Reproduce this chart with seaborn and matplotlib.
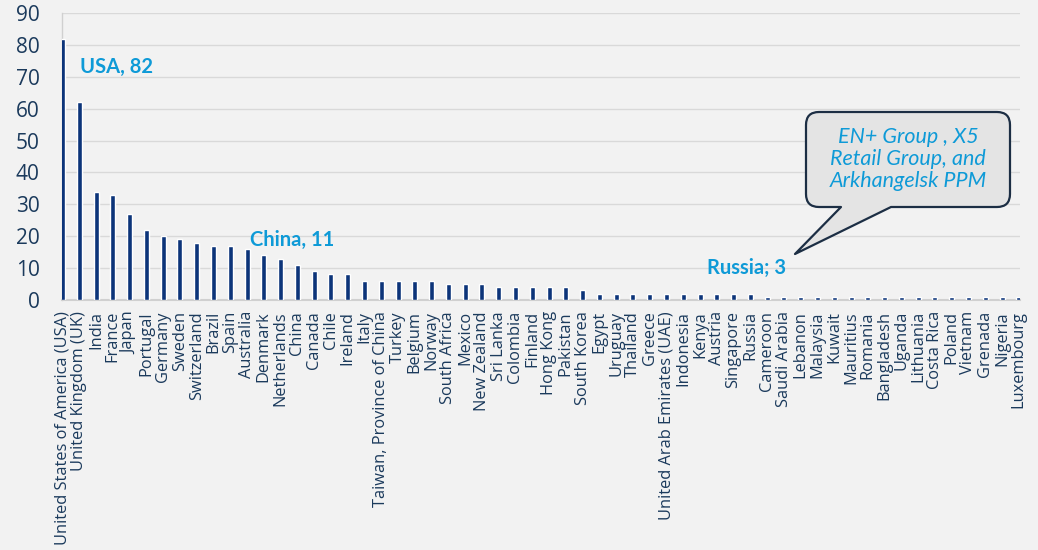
import matplotlib
matplotlib.use("Agg")
import matplotlib.pyplot as plt
import seaborn as sns
from matplotlib.path import Path
from matplotlib.patches import PathPatch

countries = [
    "United States of America (USA)", "United Kingdom (UK)", "India", "France", "Japan",
    "Portugal", "Germany", "Sweden", "Switzerland", "Brazil", "Spain", "Australia",
    "Denmark", "Netherlands", "China", "Canada", "Chile", "Ireland", "Italy",
    "Taiwan, Province of China", "Turkey", "Belgium", "Norway", "South Africa", "Mexico",
    "New Zealand", "Sri Lanka", "Colombia", "Finland", "Hong Kong", "Pakistan",
    "South Korea", "Egypt", "Uruguay", "Thailand", "Greece",
    "United Arab Emirates (UAE)", "Indonesia", "Kenya", "Austria", "Singapore", "Russia",
    "Cameroon", "Saudi Arabia", "Lebanon", "Malaysia", "Kuwait", "Mauritius", "Romania",
    "Bangladesh", "Uganda", "Lithuania", "Costa Rica", "Poland", "Vietnam", "Grenada",
    "Nigeria", "Luxembourg",
]
values = [
    82, 62, 34, 33, 27, 22, 20, 19, 18, 17, 17, 16, 14, 13, 11, 9, 8, 8, 6,
    6, 6, 6, 6, 5, 5, 5, 4, 4, 4, 4, 4, 3, 2, 2, 2, 2,
    2, 2, 2, 2, 2, 2,
    1, 1, 1, 1, 1, 1, 1, 1, 1, 1, 1, 1, 1, 1, 1, 1,
]
yticks = [0, 10, 20, 30, 40, 50, 60, 70, 80, 90]
# (label text, country it refers to, horizontal offset in categories, y level)
annotations = [("USA, 82", "United States of America (USA)", 1.05, 73),
               ("China, 11", "China", -2.8, 18.8),
               ("Russia; 3", "Russia", -2.6, 10)]
callout_lines = ["EN+ Group , X5", "Retail Group, and", "Arkhangelsk PPM"]

W, H = 1038, 550
BG = "#f2f2f2"
NAVY = "#0c3479"
TXT = "#1b3a5c"
BLUE = "#0e9ad7"

sns.set_theme(style="white")
plt.rcParams["font.family"] = ["Open Sans", "DejaVu Sans"]

fig = plt.figure(figsize=(W / 100, H / 100), dpi=100, facecolor=BG)
ax = fig.add_axes([62 / W, 1 - 300 / H, (1020 - 62) / W, (300 - 13) / H])
ax.set_facecolor(BG)

sns.barplot(x=countries, y=values, color=NAVY, width=0.3, saturation=1,
            ax=ax, zorder=3)

ax.set_xlim(-0.03, len(countries) - 1 + 0.07)
ax.set_ylim(0, 90)
ax.set_yticks(yticks)
ax.set_yticklabels([str(v) for v in yticks], fontsize=15, color=TXT)
ax.set_xticks(range(len(countries)))
ax.set_xticklabels(countries, rotation=90, fontsize=11.8, color=TXT)
ax.tick_params(axis="both", length=0)
ax.tick_params(axis="y", pad=16)
ax.tick_params(axis="x", pad=8)
ax.set_xlabel("")
ax.set_ylabel("")
ax.grid(axis="y", color="#d9d9d9", lw=1.0, zorder=0)
ax.set_axisbelow(True)
for s in ["top", "right"]:
    ax.spines[s].set_visible(False)
ax.spines["left"].set_color("#d0d0d0")
ax.spines["left"].set_linewidth(1.0)
ax.spines["bottom"].set_color("#d0d0d0")
ax.spines["bottom"].set_linewidth(1.5)

for text, country, dx, y in annotations:
    i = countries.index(country)
    ax.text(i + dx, y, text, fontsize=14.5, fontweight="bold", color=BLUE,
            family=["Lato", "DejaVu Sans"], ha="left", va="center", zorder=5)

# speech-bubble callout (figure pixel geometry)
x0, x1, y0, y1, r = 806, 1010, 112, 207, 13
pb1, pb2, tip = 841, 891, (795, 254)
pts = [
    ((x0 + r, y0), Path.MOVETO), ((x1 - r, y0), Path.LINETO),
    ((x1, y0), Path.CURVE3), ((x1, y0 + r), Path.CURVE3),
    ((x1, y1 - r), Path.LINETO),
    ((x1, y1), Path.CURVE3), ((x1 - r, y1), Path.CURVE3),
    ((pb2, y1), Path.LINETO), (tip, Path.LINETO), ((pb1, y1), Path.LINETO),
    ((x0 + r, y1), Path.LINETO),
    ((x0, y1), Path.CURVE3), ((x0, y1 - r), Path.CURVE3),
    ((x0, y0 + r), Path.LINETO),
    ((x0, y0), Path.CURVE3), ((x0 + r, y0), Path.CURVE3),
    ((x0 + r, y0), Path.CLOSEPOLY),
]
verts = [(px / W, 1 - py / H) for (px, py), _ in pts]
codes = [c for _, c in pts]
fig.patches.append(PathPatch(Path(verts, codes), transform=fig.transFigure,
                             facecolor="#e4e4e4", edgecolor="#1c2e44", lw=1.6,
                             joinstyle="round", zorder=10))
fig.text((x0 + x1) / 2 / W, 1 - 159 / H, "\n".join(callout_lines),
         fontsize=15.5, style="italic", color=BLUE, ha="center", va="center",
         linespacing=1.15, family=["Lato", "DejaVu Sans"], zorder=11)

fig.savefig("out.png", dpi=100, facecolor=BG)
